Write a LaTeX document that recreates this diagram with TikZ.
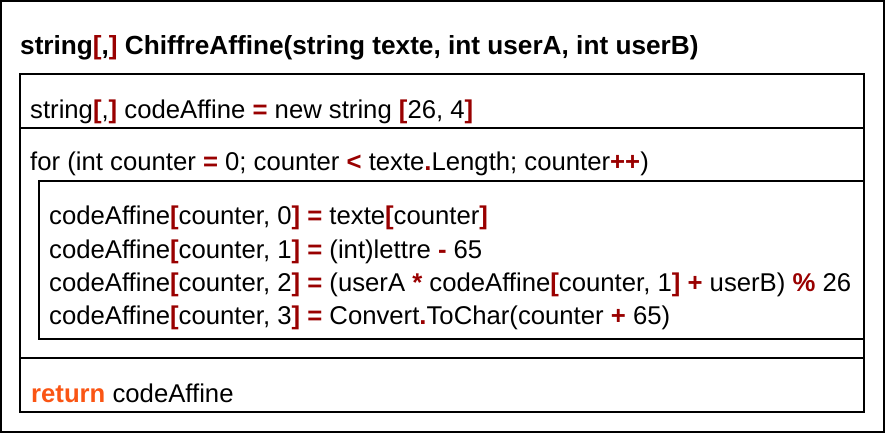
\documentclass[tikz,border=0pt]{standalone}
\usepackage{fontspec}
\setmainfont{Liberation Sans}
\definecolor{opred}{RGB}{153,0,0}
\definecolor{kworange}{RGB}{250,85,20}
\newcommand{\op}[1]{\textcolor{opred}{\textbf{#1}}}
\newcommand{\kw}[1]{\textcolor{kworange}{\textbf{#1}}}
\begin{document}
\begin{tikzpicture}[x=1pt,y=-1pt,
  codeline/.style={anchor=base west,inner sep=0pt,font=\fontsize{25.7}{30}\selectfont},
  titleline/.style={anchor=base west,inner sep=0pt,font=\fontsize{26.2}{30}\selectfont\bfseries},
  frame/.style={draw=black,line width=1.1pt}]
\useasboundingbox (0,0) rectangle (885,433);
% outer frame
\draw[frame] (1,1) rectangle (884,432);
% title
\node[titleline] (title) at (20,55) {string\op{[},\op{]} ChiffreAffine(string texte, int userA, int userB)};
% body box
\draw[frame] (20,74) rectangle (864,412);
\draw[frame] (20,128) -- (864,128);
\draw[frame] (20,358) -- (864,358);
% inner loop box
\draw[frame] (39,181) rectangle (864,339);
% lines
\node[codeline] (decl) at (30,118) {string\op{[},\op{]} codeAffine \op{=} new string \op{[}26, 4\op{]}};
\node[codeline] (for) at (30,170) {for (int counter \op{=} 0; counter \op{<} texte\op{.}Length; counter\op{++})};
\node[codeline] (l0) at (49,224) {codeAffine\op{[}counter, 0\op{]} \op{=} texte\op{[}counter\op{]}};
\node[codeline] (l1) at (49,258) {codeAffine\op{[}counter, 1\op{]} \op{=} (int)lettre \op{-} 65};
\node[codeline] (l2) at (49,291) {codeAffine\op{[}counter, 2\op{]} \op{=} (userA \op{*} codeAffine\op{[}counter, 1\op{]} \op{+} userB) \op{\%} 26};
\node[codeline] (l3) at (49,324) {codeAffine\op{[}counter, 3\op{]} \op{=} Convert\op{.}ToChar(counter \op{+} 65)};
\node[codeline] (ret) at (31,402) {\kw{return} codeAffine};
\end{tikzpicture}
\end{document}
